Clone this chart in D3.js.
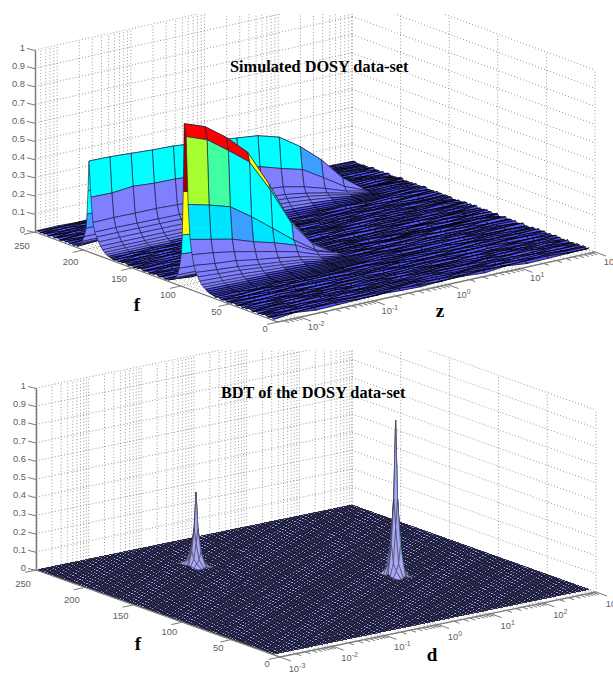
<!DOCTYPE html>
<html>
<head>
<meta charset="utf-8">
<script src="https://cdn.jsdelivr.net/npm/d3@7"></script>
<style>
  html, body { margin: 0; padding: 0; background: #fff; }
  svg { display: block; }
  .tick-label { font-family: "Liberation Sans", Arial, sans-serif; font-size: 9.4px; fill: #5e5e5e; }
  .chart-title { font-family: "Liberation Serif", serif; font-weight: bold; font-size: 16.3px; fill: #000; }
  .axis-name { font-family: "Liberation Serif", serif; font-weight: bold; font-size: 19px; fill: #000; }
</style>
</head>
<body>
<div id="chart"></div>
<script>
// tick values
const heightTicks = [0, 0.1, 0.2, 0.3, 0.4, 0.5, 0.6, 0.7, 0.8, 0.9, 1];
const fTicks = [0, 50, 100, 150, 200, 250];
const topDecades = [-2, -1, 0, 1, 2];
const bottomDecades = [-3, -2, -1, 0, 1, 2, 3];

// top panel: sample positions of the z axis
const zSamples = [0.00525, 0.0101, 0.0196, 0.038, 0.0733, 0.142, 0.275, 0.531, 1.03, 2.0, 3.85, 7.45, 14.4, 27.9, 54, 100];

// ridge near f = 98, far rows first, missing columns come from the floor table
const frontRidgeF = [111, 109, 107, 105, 103, 101, 100, 99, 98, 96, 94, 92, 90, 88, 86, 84, 82, 80, 78, 76, 74, 72, 70, 68];
const frontRidgeHeights = [
  [.012, .011, .01, .009, .006, .004, .003, .002],
  [.02, .019, .017, .015, .01, .006, .003, .002],
  [.03, .028, .026, .022, .015, .008, .004, .002],
  [.05, .047, .043, .037, .025, .012, .005, .002],
  [.09, .085, .077, .067, .045, .022, .009, .002],
  [.173, .164, .149, .128, .087, .043, .017, .004],
  [.279, .265, .24, .206, .14, .07, .03, .006],
  [.52, .49, .45, .38, .26, .13, .05, .01],
  [.894, .852, .767, .66, .462, .238, .09, .012],
  [.827, .784, .70, .61, .43, .22, .082, .01],
  [.458, .429, .394, .314, .225, .135, .056, .012],
  [.27, .245, .22, .18, .149, .11, .05, .017],
  [.19, .175, .155, .13, .105, .078, .036, .012],
  [.135, .12, .11, .09, .074, .055, .026, .009],
  [.10, .09, .081, .067, .055, .041, .019, .007],
  [.08, .072, .065, .054, .044, .033, .015, .006],
  [.06, .055, .049, .04, .033, .025, .012, .005],
  [.045, .041, .037, .03, .025, .019, .009, .004],
  [.035, .032, .028, .024, .019, .014, .008, .004],
  [.027, .025, .022, .018, .015, .011, .007, .004],
  [.02, .018, .016, .014, .012, .009, .006, .003],
  [.015, .014, .012, .011, .009, .007, .005, .003],
  [.011, .01, .009, .008, .007, .006, .004, .003],
  [.009, .008, .007, .006, .005, .005, .004, .003]
];
const frontRidgeColours = [
  "pppp", "pppp", "pppp", "ppppp", "ppppp",
  "cpppppp", "ypppppp", "dpppppp",
  "rrrygcp", "lgcccpp", "aaoaapp",
  "ppppppp", "ppppppp", "pppppp", "pppppp", "ppppp", "pppp", "ppp",
  "pp", "", "", "", "", ""
];

// ridge near f = 196
const rearRidgeF = [207, 205, 203, 201, 199, 198, 197, 196, 194, 192, 190, 188, 186, 184, 182, 180, 178, 176];
const rearRidgeHeights = [
  [.015, .015, .015, .014, .014, .014, .014, .013, .013, .012, .01, .007, .004, .002],
  [.025, .025, .024, .024, .024, .023, .023, .022, .022, .02, .016, .011, .005, .002],
  [.04, .04, .039, .039, .038, .038, .037, .036, .035, .032, .026, .018, .008, .002],
  [.07, .07, .069, .068, .067, .066, .064, .062, .061, .056, .045, .031, .013, .002],
  [.12, .12, .118, .116, .115, .113, .11, .107, .104, .096, .077, .053, .023, .003],
  [.2, .2, .196, .194, .192, .188, .184, .178, .174, .16, .128, .088, .038, .004],
  [.33, .33, .323, .32, .317, .31, .304, .294, .287, .264, .211, .145, .063, .006],
  [.495, .493, .486, .479, .475, .463, .454, .442, .429, .395, .318, .22, .096, .01],
  [.30, .298, .309, .30, .298, .29, .28, .27, .263, .227, .196, .126, .052, .005],
  [.165, .167, .165, .165, .16, .155, .15, .145, .14, .13, .105, .07, .03, .005],
  [.116, .116, .114, .112, .11, .108, .105, .102, .1, .092, .074, .05, .022, .004],
  [.093, .093, .091, .09, .089, .087, .085, .083, .08, .074, .06, .041, .018, .004],
  [.07, .07, .069, .068, .067, .066, .064, .062, .06, .056, .045, .031, .013, .003],
  [.05, .05, .049, .048, .048, .047, .046, .044, .043, .04, .032, .022, .01, .003],
  [.035, .035, .034, .034, .034, .033, .032, .031, .03, .028, .022, .015, .007, .003],
  [.024, .024, .024, .023, .023, .023, .022, .021, .021, .019, .015, .011, .005, .002],
  [.016, .016, .016, .015, .015, .015, .015, .014, .014, .013, .01, .007, .004, .002],
  [.011, .011, .011, .01, .01, .01, .01, .01, .009, .009, .007, .005, .003, .002]
];
const rearRidgeColours = [
  "ppppppppppp", "ppppppppppp", "ppppppppppp", "ppppppppppp",
  "opppppppppppp", "cpppppppppppp", "cpppppppppppp",
  "ccccccccccopp", "ppppppppppppp", "ppppppppppppp", "ppppppppppppp", "pppppppppppp",
  "ppppppppppp", "pppppppppp", "pppppppp", "pppppp", "ppp", ""
];

// floor ripple of the top panel, one row per even f from 250 down, digit = height in floorUnit
const floorUnit = 0.0016;
const floorRipple = [
  "3415263142536142", "5240316253142635", "1632504261350214", "4153627140526301",
  "2706134520617342", "6142053716240531", "0537261405317264", "3261740352614073",
  "7140526317042653", "1825036142750361", "4360172583016245", "6213847102536418",
  "0541362718240573", "3728150463172604", "5106243871502364", "2473605128364710",
  "6310725486013527", "1562043718265340", "4807316250741826", "0263581407325618",
  "7314062853160472", "2650471836205143", "5083162740516382", "3716408251370624",
  "1429630571842063", "6052718340265817", "3841026573104628", "0675231846072351",
  "4218560372815064", "7360142805637214", "1503768241056372", "5827014362780145",
  "2146083725160843", "6475120836412507", "0382746150372861", "4613052874130625",
  "7058314620857341", "2740861352406178", "5162307841625038", "3805674120583762",
  "1374026586310274", "6520183746205813", "0846351270684135", "4173620851247360",
  "2608715340162587", "7352048162735014", "5014763280451726", "1736205487136402",
  "3480561274086315", "6205374810623745", "0761842536170824", "4528016372548106",
  "2364705181364270", "7016432850716342", "5840267143580261", "1273508624137085",
  "3602814756023481", "6458130274865013", "0817362504281736", "4125706382150647",
  "2570643018725360", "7346182504361827", "5081427360814253", "1634750284163507",
  "3402681756340218", "6753014268753041", "0286375140268375", "4510862735410862",
  "2871340625871346", "7025613480725613", "5364728016364728", "1847052364187052",
  "3150486273150486", "6428731058428731", "0713264580713264", "4085617342085617",
  "2536804175253680", "7184320561718432", "5607143828560714", "1342876050134287",
  "3875012464387501", "6210345781621034", "0463758216046375", "4736201857473620",
  "2051864370205186", "7824503162782450", "5371620485537162", "1608437254160843",
  "3245781065324578", "6783105426678310", "0124638571012463", "4652817030465281",
  "2407316852240731", "7815064231781506", "5260743618526074", "1583426707158342",
  "3037685142303768", "6364120875636412", "0721853460072185", "4106572384410657",
  "2548730616254873", "7683014257768301", "5012468733501246", "1375826040137582",
  "3726140568372614", "6041587326604158", "0450736281045073", "4817263054481726",
  "2182604735218260", "7536048126753604", "5274816305527481", "1605372848160537",
  "3841506274384150", "6378025146637802", "0513742680051374", "4260817536426081",
  "2714065382271406", "7087543210708754", "5436102875543610", "1750364826175036",
  "3128650471312865", "6567218304656721", "0802473165080247"
];

// bottom panel: the two peaks, floor cells are zero
const peakFOffsets = [10, 5, 2, 0, -2, -5, -10];
const peakDOffsets = [-0.14, -0.08, -0.035, 0, 0.035, 0.08, 0.14];
const peakCentresF = [199, 106];
const peakCentresD = [-0.906, 1.16];
const leftPeakHeights = [
  [0, 0, .002, .008, .002, 0, 0],
  [0, .02, .04, .08, .04, .02, 0],
  [.002, .04, .12, .2, .12, .04, .002],
  [.008, .08, .2, .4, .2, .08, .008],
  [.002, .04, .12, .2, .12, .04, .002],
  [0, .02, .04, .08, .04, .02, 0],
  [0, 0, .002, .008, .002, 0, 0]
];
const rightPeakHeights = [
  [0, 0, .004, .014, .004, 0, 0],
  [0, .035, .07, .17, .07, .035, 0],
  [.004, .07, .26, .42, .26, .07, .004],
  [.014, .17, .42, .85, .42, .17, .014],
  [.004, .07, .26, .42, .26, .07, .004],
  [0, .035, .07, .17, .07, .035, 0],
  [0, 0, .004, .014, .004, 0, 0]
];

const colourKeys = ["b", "p", "a", "c", "o", "g", "l", "y", "r", "d"];
const colourValues = ["#5252ff", "#8080ff", "#00e5ff", "#00ffff", "#3a9fff", "#40ffa0", "#a8ff30", "#ffff00", "#ff0000", "#a00000"];
const cellColour = d3.scaleOrdinal(colourKeys, colourValues);

const width = 613;
const height = 677;
const svg = d3.select("#chart").append("svg").attr("width", width).attr("height", height);
const defs = svg.append("defs");
const polygon = d3.line();

class Panel {
  constructor(id, origin, fVec, zVec, boxHeight, logDomain, clipTop) {
    this.origin = origin;
    this.fVec = fVec;
    this.zVec = zVec;
    this.fScale = d3.scaleLinear().domain([250, 0]).range([0, 1]);
    this.zScale = d3.scaleLog().domain(logDomain).range([0, 1]);
    this.hScale = d3.scaleLinear().domain([0, 1]).range([0, boxHeight]);
    this.logDomain = logDomain;

    defs.append("clipPath").attr("id", id).append("rect").
    attr("x", 0).attr("y", clipTop).attr("width", width).attr("height", height);
    this.root = svg.append("g").attr("clip-path", `url(#${id})`);
  }

  // screen position of a point on the box
  project(f, z, h) {
    let a = this.fScale(f);
    let b = this.zScale(z);
    return [
    this.origin[0] + a * this.fVec[0] + b * this.zVec[0],
    this.origin[1] + a * this.fVec[1] + b * this.zVec[1] - this.hScale(h)];
  }

  minorTicks() {
    let ticks = [];
    let lo = Math.floor(Math.log10(this.logDomain[0]));
    let hi = Math.log10(this.logDomain[1]);
    for (let e = lo; e < hi; e++) {
      for (let m = 1; m < 10; m++) {
        let v = m * Math.pow(10, e);
        if (v >= this.logDomain[0] && v <= this.logDomain[1]) ticks.push({ v: v, major: m === 1 });
      }
    }
    ticks.push({ v: this.logDomain[1], major: true });
    return ticks;
  }

  drawWalls() {
    let [zLo, zHi] = this.logDomain;
    let lines = [];
    heightTicks.forEach(h => {
      lines.push([this.project(250, zLo, h), this.project(250, zHi, h)]);
      lines.push([this.project(250, zHi, h), this.project(0, zHi, h)]);
    });
    fTicks.forEach(f => {
      lines.push([this.project(f, zHi, 0), this.project(f, zHi, 1)]);
      lines.push([this.project(f, zLo, 0), this.project(f, zHi, 0)]);
    });
    this.minorTicks().forEach(t => {
      lines.push([this.project(250, t.v, 0), this.project(250, t.v, 1)]);
      lines.push([this.project(250, t.v, 0), this.project(0, t.v, 0)]);
    });
    this.root.append("path").attr("d", lines.map(l => polygon(l)).join("")).
    attr("fill", "none").attr("stroke", "#8c8c8c").attr("stroke-width", 0.9).
    attr("stroke-dasharray", "1,2.2");
  }

  drawAxes(decades, labelOffset) {
    let [zLo, zHi] = this.logDomain;
    let axisColour = "#7a7a7a";

    // vertical axis through the library's axis generator
    let corner = this.project(250, zLo, 0);
    let yScale = d3.scaleLinear().domain([0, 1]).range([corner[1], corner[1] - this.hScale(1)]);
    let vAxis = d3.axisLeft(yScale).tickValues(heightTicks).tickSize(8).tickSizeOuter(0).
    tickFormat(d => d3.format("~g")(d));
    let g = this.root.append("g").attr("transform", `translate(${corner[0]},0)`).call(vAxis);
    g.select(".domain").attr("stroke", axisColour).attr("stroke-width", 1.5);
    g.selectAll(".tick line").attr("stroke", axisColour).attr("y2", -2);
    g.selectAll(".tick text").attr("class", "tick-label").attr("x", -10).attr("dy", "0.05em");

    let base = this.root.append("g");
    base.append("path").
    attr("d", polygon([this.project(250, zLo, 0), this.project(0, zLo, 0), this.project(0, zHi, 0)])).
    attr("fill", "none").attr("stroke", axisColour).attr("stroke-width", 1.3);

    fTicks.forEach(f => {
      let p = this.project(f, zLo, 0);
      base.append("line").attr("x1", p[0]).attr("y1", p[1]).
      attr("x2", p[0] - 11).attr("y2", p[1] + 2.4).attr("stroke", axisColour);
      base.append("text").attr("class", "tick-label").attr("text-anchor", "middle").
      attr("x", p[0] - 13).attr("y", p[1] + 9.5 + f / 250 * 7).text(f);
    });

    this.minorTicks().forEach(t => {
      let p = this.project(0, t.v, 0);
      let len = t.major ? 1 : 0.5;
      base.append("line").attr("x1", p[0]).attr("y1", p[1]).
      attr("x2", p[0] + 11 * len).attr("y2", p[1] + 4 * len).attr("stroke", axisColour);
    });

    decades.forEach(e => {
      let p = this.project(0, Math.pow(10, e), 0);
      let label = base.append("text").attr("class", "tick-label").attr("text-anchor", "middle").
      attr("x", p[0] + labelOffset[0]).attr("y", p[1] + labelOffset[1]);
      label.append("tspan").text("10");
      label.append("tspan").attr("font-size", 7).attr("dy", -4).text(e);
    });
  }
}

// ---------- top panel ----------
function drawTopPanel() {
  let panel = new Panel("clip-top", [35, 232], [243, 90], [317, -70], 182, [Math.pow(10, -2.3), 100], 14);
  panel.drawWalls();

  let rippleAt = (f, k) => {
    let row = floorRipple[Math.min(floorRipple.length - 1, Math.round((250 - f) / 2))];
    return +row[k] * floorUnit;
  };
  let makeRow = (f, heights, colours) => ({
    f: f,
    h: zSamples.map((z, k) => k < heights.length ? heights[k] : rippleAt(f, k)),
    c: colours
  });

  let rows = [];
  floorRipple.forEach((r, i) => {
    let f = 250 - 2 * i;
    let inFront = f <= 111 && f >= 68;
    let inRear = f <= 207 && f >= 176;
    if (!inFront && !inRear) rows.push(makeRow(f, [], ""));
  });
  frontRidgeF.forEach((f, i) => rows.push(makeRow(f, frontRidgeHeights[i], frontRidgeColours[i])));
  rearRidgeF.forEach((f, i) => rows.push(makeRow(f, rearRidgeHeights[i], rearRidgeColours[i])));
  rows.sort((p, q) => q.f - p.f);

  // painter's order, far rows and far columns first
  let cells = [];
  for (let i = 0; i < rows.length - 1; i++) {
    for (let k = zSamples.length - 2; k >= 0; k--) {
      let far = rows[i];
      let near = rows[i + 1];
      let key = far.c[k] || "b";
      cells.push({
        d: polygon([
        panel.project(far.f, zSamples[k], far.h[k]),
        panel.project(far.f, zSamples[k + 1], far.h[k + 1]),
        panel.project(near.f, zSamples[k + 1], near.h[k + 1]),
        panel.project(near.f, zSamples[k], near.h[k])]) + "Z",
        fill: cellColour(key),
        floor: key === "b"
      });
    }
  }

  panel.root.append("g").selectAll("path").data(cells).enter().
  append("path").attr("d", c => c.d).attr("fill", c => c.fill).
  attr("stroke", c => c.floor ? "#000" : "#1c1c40").
  attr("stroke-width", c => c.floor ? 0.78 : 0.65);

  panel.drawAxes(topDecades, [16, 13]);

  svg.append("text").attr("class", "chart-title").attr("x", 230).attr("y", 71.5).text("Simulated DOSY data-set");
  svg.append("text").attr("class", "axis-name").attr("text-anchor", "middle").attr("x", 137).attr("y", 311).text("f");
  svg.append("text").attr("class", "axis-name").attr("text-anchor", "middle").attr("x", 440).attr("y", 317).text("z");
}

// ---------- bottom panel ----------
function drawBottomPanel() {
  let panel = new Panel("clip-bottom", [36, 570], [244, 87], [316, -65], 182, [0.001, 1000], 350);
  panel.drawWalls();

  // floor mesh, flat at zero
  let rowF = d3.range(250, 5, -2.5);
  let colE = d3.range(0, 118).map(i => -2.97 + i * 5.97 / 117);
  let colZ = colE.map(e => Math.pow(10, e));
  let first = rowF[0];
  let last = rowF[rowF.length - 1];
  let zFirst = colZ[0];
  let zLast = colZ[colZ.length - 1];
  panel.root.append("path").
  attr("d", polygon([panel.project(first, zFirst, 0), panel.project(first, zLast, 0), panel.project(last, zLast, 0), panel.project(last, zFirst, 0)]) + "Z").
  attr("fill", "#9a9aee");
  let mesh = rowF.map(f => polygon([panel.project(f, zFirst, 0), panel.project(f, zLast, 0)])).join("") +
  colZ.map(z => polygon([panel.project(first, z, 0), panel.project(last, z, 0)])).join("");
  panel.root.append("path").attr("d", mesh).attr("fill", "none").
  attr("stroke", "#14142a").attr("stroke-width", 0.8).attr("shape-rendering", "crispEdges");

  let drawPeak = (f0, e0, heights, accents) => {
    let g = panel.root.append("g");
    let pt = (r, c) => panel.project(f0 + peakFOffsets[r], Math.pow(10, e0 + peakDOffsets[c]), heights[r][c]);
    let cell = (i, k) => polygon([pt(i, k), pt(i, k + 1), pt(i + 1, k + 1), pt(i + 1, k)]) + "Z";
    for (let i = 0; i < heights.length - 1; i++) {
      for (let k = heights[i].length - 2; k >= 0; k--) {
        g.append("path").attr("d", cell(i, k)).attr("fill", "#a8a8f4").
        attr("stroke", "#45455f").attr("stroke-width", 0.6);
      }
    }
    // the thin coloured slivers sit on top, no edge lines
    accents.forEach(a => {
      g.append("path").attr("d", cell(a[0], a[1])).attr("fill", a[2]);
    });
  };
  drawPeak(peakCentresF[0], peakCentresD[0], leftPeakHeights, [[2, 2, "#000"]]);
  drawPeak(peakCentresF[1], peakCentresD[1], rightPeakHeights, [[3, 3, "#00ffff"], [4, 3, "#00ffff"], [2, 2, "#000"]]);

  panel.drawAxes(bottomDecades, [17, 15]);

  svg.append("text").attr("class", "chart-title").attr("x", 221).attr("y", 398).text("BDT of the DOSY data-set");
  svg.append("text").attr("class", "axis-name").attr("text-anchor", "middle").attr("x", 138).attr("y", 650).text("f");
  svg.append("text").attr("class", "axis-name").attr("text-anchor", "middle").attr("x", 432).attr("y", 661).text("d");
}

drawTopPanel();
drawBottomPanel();
</script>
</body>
</html>
